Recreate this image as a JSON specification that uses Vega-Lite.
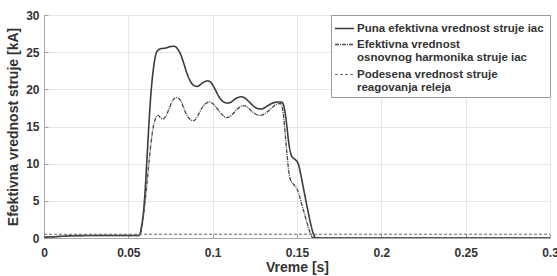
{
  "$schema": "https://vega.github.io/schema/vega-lite/v6.json",
  "width": 506,
  "height": 223,
  "autosize": {"type": "none"},
  "padding": {"left": 44, "top": 15, "right": 7, "bottom": 38},
  "background": "white",
  "config": {
    "font": "Liberation Sans",
    "view": {"stroke": "#a8a8a8", "strokeWidth": 1},
    "axis": {
      "labelFont": "Liberation Sans", "labelFontWeight": "bold", "labelFontSize": 12, "labelColor": "#333333",
      "titleFont": "Liberation Sans", "titleFontWeight": "bold", "titleFontSize": 14, "titleColor": "#333333",
      "gridColor": "#e6e6e6", "gridWidth": 1, "domainColor": "#a8a8a8",
      "ticks": true, "tickSize": -4, "tickColor": "#a0a0a0"
    }
  },
  "datasets": {
    "curves": [
      {"t": 0, "v": 0.1, "s": "Puna efektivna vrednost struje  iac"},
      {"t": 0.005, "v": 0.15, "s": "Puna efektivna vrednost struje  iac"},
      {"t": 0.01, "v": 0.22, "s": "Puna efektivna vrednost struje  iac"},
      {"t": 0.015, "v": 0.28, "s": "Puna efektivna vrednost struje  iac"},
      {"t": 0.02, "v": 0.32, "s": "Puna efektivna vrednost struje  iac"},
      {"t": 0.03, "v": 0.33, "s": "Puna efektivna vrednost struje  iac"},
      {"t": 0.045, "v": 0.33, "s": "Puna efektivna vrednost struje  iac"},
      {"t": 0.056, "v": 0.33, "s": "Puna efektivna vrednost struje  iac"},
      {"t": 0.057, "v": 0.6, "s": "Puna efektivna vrednost struje  iac"},
      {"t": 0.058, "v": 1.8, "s": "Puna efektivna vrednost struje  iac"},
      {"t": 0.059, "v": 3.5, "s": "Puna efektivna vrednost struje  iac"},
      {"t": 0.060, "v": 6.5, "s": "Puna efektivna vrednost struje  iac"},
      {"t": 0.061, "v": 10.5, "s": "Puna efektivna vrednost struje  iac"},
      {"t": 0.062, "v": 14.5, "s": "Puna efektivna vrednost struje  iac"},
      {"t": 0.063, "v": 18.2, "s": "Puna efektivna vrednost struje  iac"},
      {"t": 0.064, "v": 21.0, "s": "Puna efektivna vrednost struje  iac"},
      {"t": 0.065, "v": 23.0, "s": "Puna efektivna vrednost struje  iac"},
      {"t": 0.066, "v": 24.4, "s": "Puna efektivna vrednost struje  iac"},
      {"t": 0.067, "v": 25.1, "s": "Puna efektivna vrednost struje  iac"},
      {"t": 0.069, "v": 25.45, "s": "Puna efektivna vrednost struje  iac"},
      {"t": 0.072, "v": 25.55, "s": "Puna efektivna vrednost struje  iac"},
      {"t": 0.075, "v": 25.75, "s": "Puna efektivna vrednost struje  iac"},
      {"t": 0.077, "v": 25.8, "s": "Puna efektivna vrednost struje  iac"},
      {"t": 0.079, "v": 25.5, "s": "Puna efektivna vrednost struje  iac"},
      {"t": 0.081, "v": 24.7, "s": "Puna efektivna vrednost struje  iac"},
      {"t": 0.083, "v": 23.4, "s": "Puna efektivna vrednost struje  iac"},
      {"t": 0.085, "v": 22.0, "s": "Puna efektivna vrednost struje  iac"},
      {"t": 0.087, "v": 21.0, "s": "Puna efektivna vrednost struje  iac"},
      {"t": 0.089, "v": 20.5, "s": "Puna efektivna vrednost struje  iac"},
      {"t": 0.091, "v": 20.4, "s": "Puna efektivna vrednost struje  iac"},
      {"t": 0.093, "v": 20.7, "s": "Puna efektivna vrednost struje  iac"},
      {"t": 0.095, "v": 21.0, "s": "Puna efektivna vrednost struje  iac"},
      {"t": 0.097, "v": 21.15, "s": "Puna efektivna vrednost struje  iac"},
      {"t": 0.099, "v": 20.9, "s": "Puna efektivna vrednost struje  iac"},
      {"t": 0.101, "v": 20.2, "s": "Puna efektivna vrednost struje  iac"},
      {"t": 0.103, "v": 19.3, "s": "Puna efektivna vrednost struje  iac"},
      {"t": 0.105, "v": 18.6, "s": "Puna efektivna vrednost struje  iac"},
      {"t": 0.107, "v": 18.25, "s": "Puna efektivna vrednost struje  iac"},
      {"t": 0.109, "v": 18.15, "s": "Puna efektivna vrednost struje  iac"},
      {"t": 0.111, "v": 18.3, "s": "Puna efektivna vrednost struje  iac"},
      {"t": 0.113, "v": 18.65, "s": "Puna efektivna vrednost struje  iac"},
      {"t": 0.115, "v": 18.9, "s": "Puna efektivna vrednost struje  iac"},
      {"t": 0.117, "v": 19.0, "s": "Puna efektivna vrednost struje  iac"},
      {"t": 0.119, "v": 18.85, "s": "Puna efektivna vrednost struje  iac"},
      {"t": 0.121, "v": 18.45, "s": "Puna efektivna vrednost struje  iac"},
      {"t": 0.123, "v": 18.0, "s": "Puna efektivna vrednost struje  iac"},
      {"t": 0.125, "v": 17.6, "s": "Puna efektivna vrednost struje  iac"},
      {"t": 0.127, "v": 17.4, "s": "Puna efektivna vrednost struje  iac"},
      {"t": 0.129, "v": 17.35, "s": "Puna efektivna vrednost struje  iac"},
      {"t": 0.131, "v": 17.55, "s": "Puna efektivna vrednost struje  iac"},
      {"t": 0.133, "v": 17.85, "s": "Puna efektivna vrednost struje  iac"},
      {"t": 0.135, "v": 18.1, "s": "Puna efektivna vrednost struje  iac"},
      {"t": 0.137, "v": 18.25, "s": "Puna efektivna vrednost struje  iac"},
      {"t": 0.139, "v": 18.3, "s": "Puna efektivna vrednost struje  iac"},
      {"t": 0.141, "v": 18.25, "s": "Puna efektivna vrednost struje  iac"},
      {"t": 0.142, "v": 17.9, "s": "Puna efektivna vrednost struje  iac"},
      {"t": 0.143, "v": 16.8, "s": "Puna efektivna vrednost struje  iac"},
      {"t": 0.144, "v": 15.0, "s": "Puna efektivna vrednost struje  iac"},
      {"t": 0.145, "v": 13.0, "s": "Puna efektivna vrednost struje  iac"},
      {"t": 0.146, "v": 11.6, "s": "Puna efektivna vrednost struje  iac"},
      {"t": 0.147, "v": 10.95, "s": "Puna efektivna vrednost struje  iac"},
      {"t": 0.149, "v": 10.55, "s": "Puna efektivna vrednost struje  iac"},
      {"t": 0.150, "v": 10.3, "s": "Puna efektivna vrednost struje  iac"},
      {"t": 0.151, "v": 9.8, "s": "Puna efektivna vrednost struje  iac"},
      {"t": 0.152, "v": 8.8, "s": "Puna efektivna vrednost struje  iac"},
      {"t": 0.154, "v": 6.5, "s": "Puna efektivna vrednost struje  iac"},
      {"t": 0.156, "v": 4.2, "s": "Puna efektivna vrednost struje  iac"},
      {"t": 0.158, "v": 2.0, "s": "Puna efektivna vrednost struje  iac"},
      {"t": 0.160, "v": 0.4, "s": "Puna efektivna vrednost struje  iac"},
      {"t": 0.161, "v": 0.05, "s": "Puna efektivna vrednost struje  iac"},
      {"t": 0.165, "v": 0, "s": "Puna efektivna vrednost struje  iac"},
      {"t": 0.3, "v": 0, "s": "Puna efektivna vrednost struje  iac"},

      {"t": 0, "v": 0.1, "s": "Efektivna vrednost|osnovnog harmonika struje iac"},
      {"t": 0.005, "v": 0.15, "s": "Efektivna vrednost|osnovnog harmonika struje iac"},
      {"t": 0.01, "v": 0.22, "s": "Efektivna vrednost|osnovnog harmonika struje iac"},
      {"t": 0.015, "v": 0.28, "s": "Efektivna vrednost|osnovnog harmonika struje iac"},
      {"t": 0.02, "v": 0.32, "s": "Efektivna vrednost|osnovnog harmonika struje iac"},
      {"t": 0.03, "v": 0.33, "s": "Efektivna vrednost|osnovnog harmonika struje iac"},
      {"t": 0.045, "v": 0.33, "s": "Efektivna vrednost|osnovnog harmonika struje iac"},
      {"t": 0.056, "v": 0.33, "s": "Efektivna vrednost|osnovnog harmonika struje iac"},
      {"t": 0.057, "v": 0.5, "s": "Efektivna vrednost|osnovnog harmonika struje iac"},
      {"t": 0.058, "v": 1.4, "s": "Efektivna vrednost|osnovnog harmonika struje iac"},
      {"t": 0.059, "v": 3.0, "s": "Efektivna vrednost|osnovnog harmonika struje iac"},
      {"t": 0.060, "v": 5.0, "s": "Efektivna vrednost|osnovnog harmonika struje iac"},
      {"t": 0.061, "v": 7.2, "s": "Efektivna vrednost|osnovnog harmonika struje iac"},
      {"t": 0.062, "v": 9.6, "s": "Efektivna vrednost|osnovnog harmonika struje iac"},
      {"t": 0.063, "v": 11.9, "s": "Efektivna vrednost|osnovnog harmonika struje iac"},
      {"t": 0.064, "v": 13.8, "s": "Efektivna vrednost|osnovnog harmonika struje iac"},
      {"t": 0.065, "v": 15.2, "s": "Efektivna vrednost|osnovnog harmonika struje iac"},
      {"t": 0.066, "v": 16.0, "s": "Efektivna vrednost|osnovnog harmonika struje iac"},
      {"t": 0.0675, "v": 16.5, "s": "Efektivna vrednost|osnovnog harmonika struje iac"},
      {"t": 0.069, "v": 16.2, "s": "Efektivna vrednost|osnovnog harmonika struje iac"},
      {"t": 0.0705, "v": 16.0, "s": "Efektivna vrednost|osnovnog harmonika struje iac"},
      {"t": 0.072, "v": 16.3, "s": "Efektivna vrednost|osnovnog harmonika struje iac"},
      {"t": 0.074, "v": 17.3, "s": "Efektivna vrednost|osnovnog harmonika struje iac"},
      {"t": 0.076, "v": 18.4, "s": "Efektivna vrednost|osnovnog harmonika struje iac"},
      {"t": 0.0785, "v": 18.9, "s": "Efektivna vrednost|osnovnog harmonika struje iac"},
      {"t": 0.081, "v": 18.5, "s": "Efektivna vrednost|osnovnog harmonika struje iac"},
      {"t": 0.083, "v": 17.4, "s": "Efektivna vrednost|osnovnog harmonika struje iac"},
      {"t": 0.085, "v": 16.4, "s": "Efektivna vrednost|osnovnog harmonika struje iac"},
      {"t": 0.087, "v": 15.9, "s": "Efektivna vrednost|osnovnog harmonika struje iac"},
      {"t": 0.0885, "v": 15.75, "s": "Efektivna vrednost|osnovnog harmonika struje iac"},
      {"t": 0.090, "v": 16.0, "s": "Efektivna vrednost|osnovnog harmonika struje iac"},
      {"t": 0.092, "v": 16.8, "s": "Efektivna vrednost|osnovnog harmonika struje iac"},
      {"t": 0.094, "v": 17.6, "s": "Efektivna vrednost|osnovnog harmonika struje iac"},
      {"t": 0.096, "v": 18.1, "s": "Efektivna vrednost|osnovnog harmonika struje iac"},
      {"t": 0.098, "v": 18.3, "s": "Efektivna vrednost|osnovnog harmonika struje iac"},
      {"t": 0.100, "v": 18.1, "s": "Efektivna vrednost|osnovnog harmonika struje iac"},
      {"t": 0.102, "v": 17.6, "s": "Efektivna vrednost|osnovnog harmonika struje iac"},
      {"t": 0.104, "v": 17.0, "s": "Efektivna vrednost|osnovnog harmonika struje iac"},
      {"t": 0.106, "v": 16.5, "s": "Efektivna vrednost|osnovnog harmonika struje iac"},
      {"t": 0.108, "v": 16.2, "s": "Efektivna vrednost|osnovnog harmonika struje iac"},
      {"t": 0.110, "v": 16.3, "s": "Efektivna vrednost|osnovnog harmonika struje iac"},
      {"t": 0.112, "v": 16.7, "s": "Efektivna vrednost|osnovnog harmonika struje iac"},
      {"t": 0.114, "v": 17.2, "s": "Efektivna vrednost|osnovnog harmonika struje iac"},
      {"t": 0.116, "v": 17.6, "s": "Efektivna vrednost|osnovnog harmonika struje iac"},
      {"t": 0.118, "v": 17.8, "s": "Efektivna vrednost|osnovnog harmonika struje iac"},
      {"t": 0.120, "v": 17.7, "s": "Efektivna vrednost|osnovnog harmonika struje iac"},
      {"t": 0.122, "v": 17.3, "s": "Efektivna vrednost|osnovnog harmonika struje iac"},
      {"t": 0.124, "v": 16.9, "s": "Efektivna vrednost|osnovnog harmonika struje iac"},
      {"t": 0.126, "v": 16.6, "s": "Efektivna vrednost|osnovnog harmonika struje iac"},
      {"t": 0.128, "v": 16.5, "s": "Efektivna vrednost|osnovnog harmonika struje iac"},
      {"t": 0.130, "v": 16.6, "s": "Efektivna vrednost|osnovnog harmonika struje iac"},
      {"t": 0.132, "v": 16.9, "s": "Efektivna vrednost|osnovnog harmonika struje iac"},
      {"t": 0.134, "v": 17.3, "s": "Efektivna vrednost|osnovnog harmonika struje iac"},
      {"t": 0.136, "v": 17.7, "s": "Efektivna vrednost|osnovnog harmonika struje iac"},
      {"t": 0.138, "v": 18.0, "s": "Efektivna vrednost|osnovnog harmonika struje iac"},
      {"t": 0.140, "v": 18.1, "s": "Efektivna vrednost|osnovnog harmonika struje iac"},
      {"t": 0.141, "v": 17.8, "s": "Efektivna vrednost|osnovnog harmonika struje iac"},
      {"t": 0.142, "v": 16.5, "s": "Efektivna vrednost|osnovnog harmonika struje iac"},
      {"t": 0.143, "v": 14.0, "s": "Efektivna vrednost|osnovnog harmonika struje iac"},
      {"t": 0.144, "v": 11.5, "s": "Efektivna vrednost|osnovnog harmonika struje iac"},
      {"t": 0.145, "v": 9.2, "s": "Efektivna vrednost|osnovnog harmonika struje iac"},
      {"t": 0.146, "v": 7.9, "s": "Efektivna vrednost|osnovnog harmonika struje iac"},
      {"t": 0.148, "v": 7.2, "s": "Efektivna vrednost|osnovnog harmonika struje iac"},
      {"t": 0.150, "v": 6.6, "s": "Efektivna vrednost|osnovnog harmonika struje iac"},
      {"t": 0.151, "v": 6.0, "s": "Efektivna vrednost|osnovnog harmonika struje iac"},
      {"t": 0.152, "v": 5.2, "s": "Efektivna vrednost|osnovnog harmonika struje iac"},
      {"t": 0.154, "v": 3.6, "s": "Efektivna vrednost|osnovnog harmonika struje iac"},
      {"t": 0.156, "v": 2.0, "s": "Efektivna vrednost|osnovnog harmonika struje iac"},
      {"t": 0.158, "v": 0.6, "s": "Efektivna vrednost|osnovnog harmonika struje iac"},
      {"t": 0.159, "v": 0.1, "s": "Efektivna vrednost|osnovnog harmonika struje iac"},
      {"t": 0.162, "v": 0, "s": "Efektivna vrednost|osnovnog harmonika struje iac"},
      {"t": 0.3, "v": 0, "s": "Efektivna vrednost|osnovnog harmonika struje iac"},

      {"t": 0, "v": 0.5, "s": "Podesena vrednost struje| reagovanja releja"},
      {"t": 0.3, "v": 0.5, "s": "Podesena vrednost struje| reagovanja releja"}
    ]
  },
  "data": {"name": "curves"},
  "mark": {"type": "line", "interpolate": "monotone", "clip": true},
  "encoding": {
    "x": {
      "field": "t", "type": "quantitative", "title": "Vreme [s]",
      "scale": {"domain": [0, 0.3], "nice": false},
      "axis": {"values": [0, 0.05, 0.1, 0.15, 0.2, 0.25, 0.3], "format": "~g", "labelPadding": 13, "titlePadding": 2, "labelFlush": false}
    },
    "y": {
      "field": "v", "type": "quantitative", "title": "Efektivna vrednost struje [kA]",
      "scale": {"domain": [0, 30], "nice": false},
      "axis": {"values": [0, 5, 10, 15, 20, 25, 30], "labelPadding": 9, "titlePadding": 5}
    },
    "color": {
      "field": "s", "type": "nominal",
      "scale": {
        "domain": ["Puna efektivna vrednost struje  iac", "Efektivna vrednost|osnovnog harmonika struje iac", "Podesena vrednost struje| reagovanja releja"],
        "range": ["#3c3c3c", "#4a4a4a", "#6a6a6a"]
      },
      "legend": {
        "title": null, "orient": "top-right", "offset": 0,
        "labelExpr": "split(datum.label, '|')",
        "labelFont": "Liberation Sans", "labelFontWeight": "bold", "labelFontSize": 11.5, "labelColor": "#333333",
        "labelLimit": 300, "labelLineHeight": 15, "labelOffset": 2,
        "symbolType": "stroke", "symbolSize": 361, "symbolStrokeWidth": 1.3,
        "strokeColor": "#9a9a9a", "fillColor": "white", "padding": 3, "rowPadding": -2
      }
    },
    "strokeDash": {
      "field": "s", "type": "nominal",
      "scale": {
        "domain": ["Puna efektivna vrednost struje  iac", "Efektivna vrednost|osnovnog harmonika struje iac", "Podesena vrednost struje| reagovanja releja"],
        "range": [[1, 0], [4, 1, 1, 1], [3, 2]]
      },
      "legend": null
    },
    "strokeWidth": {
      "field": "s", "type": "nominal",
      "scale": {
        "domain": ["Puna efektivna vrednost struje  iac", "Efektivna vrednost|osnovnog harmonika struje iac", "Podesena vrednost struje| reagovanja releja"],
        "range": [1.6, 1.1, 1.2]
      },
      "legend": null
    }
  }
}
